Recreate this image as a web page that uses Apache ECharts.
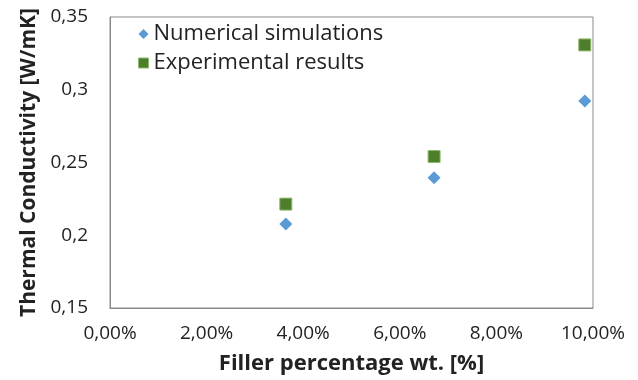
<!DOCTYPE html>
<html>
<head>
<meta charset="utf-8">
<script src="https://cdn.jsdelivr.net/npm/echarts@6/dist/echarts.min.js"></script>
<style>
  html, body { margin: 0; padding: 0; background: #fff; }
  #chart { width: 638px; height: 380px; }
</style>
</head>
<body>
<div id="chart"></div>
<script>
// filler wt.% and conductivity W/mK
var fillerPct = [3.64, 6.71, 9.83];
var numerical = [0.2078, 0.2395, 0.2922];
var experimental = [0.2214, 0.2541, 0.3308];
var seriesNames = ['Numerical simulations', 'Experimental results'];

var FONT = 'Open Sans';

function pairs(xs, ys) {
  var out = [];
  for (var i = 0; i < xs.length; i++) out.push([xs[i], ys[i]]);
  return out;
}

var chart = echarts.init(document.getElementById('chart'));
chart.setOption({
  animation: false,
  textStyle: { fontFamily: FONT },
  grid: {
    left: 110, right: 45, top: 17, bottom: 68,
    show: true, borderColor: '#8a8a8a', borderWidth: 1
  },
  legend: {
    orient: 'vertical',
    left: 133, top: 18,
    itemGap: 7,
    itemWidth: 10, itemHeight: 10,
    textStyle: { fontSize: 22, color: '#222', fontFamily: FONT },
    data: [
      { name: seriesNames[0], icon: 'diamond', itemStyle: { color: '#5b9bd5', borderWidth: 0 } },
      { name: seriesNames[1], icon: 'rect', itemStyle: { color: '#4e7d2c', borderColor: '#8dbb6b', borderWidth: 1 } }
    ]
  },
  xAxis: {
    type: 'value',
    min: 0, max: 10, interval: 2,
    name: 'Filler percentage wt. [%]',
    nameLocation: 'middle',
    nameGap: 45,
    nameTextStyle: { fontSize: 22, fontWeight: 'bold', color: '#222', fontFamily: FONT },
    axisLine: { show: true, lineStyle: { color: '#8a8a8a' } },
    axisTick: { show: false },
    splitLine: { show: false },
    axisLabel: {
      fontSize: 19, color: '#222', margin: 16,
      formatter: function (v) { return v.toFixed(2).replace('.', ',') + '%'; }
    }
  },
  yAxis: {
    type: 'value',
    min: 0.15, max: 0.35, interval: 0.05,
    name: 'Thermal Conductivity [W/mK]',
    nameLocation: 'middle',
    nameGap: 69,
    nameTextStyle: { fontSize: 21, fontWeight: 'bold', color: '#222', fontFamily: FONT },
    axisLine: { show: true, lineStyle: { color: '#8a8a8a' } },
    axisTick: { show: false },
    splitLine: { show: false },
    axisLabel: {
      fontSize: 19, color: '#222', margin: 22,
      formatter: function (v) { return String(+v.toFixed(2)).replace('.', ','); }
    }
  },
  series: [
    {
      name: seriesNames[0],
      type: 'scatter',
      symbol: 'diamond',
      symbolSize: 13,
      itemStyle: { color: '#5b9bd5', opacity: 1 },
      data: pairs(fillerPct, numerical)
    },
    {
      name: seriesNames[1],
      type: 'scatter',
      symbol: 'rect',
      symbolSize: 12,
      itemStyle: { color: '#4e7d2c', borderColor: '#8dbb6b', borderWidth: 1, opacity: 1 },
      data: pairs(fillerPct, experimental)
    }
  ]
});
</script>
</body>
</html>
